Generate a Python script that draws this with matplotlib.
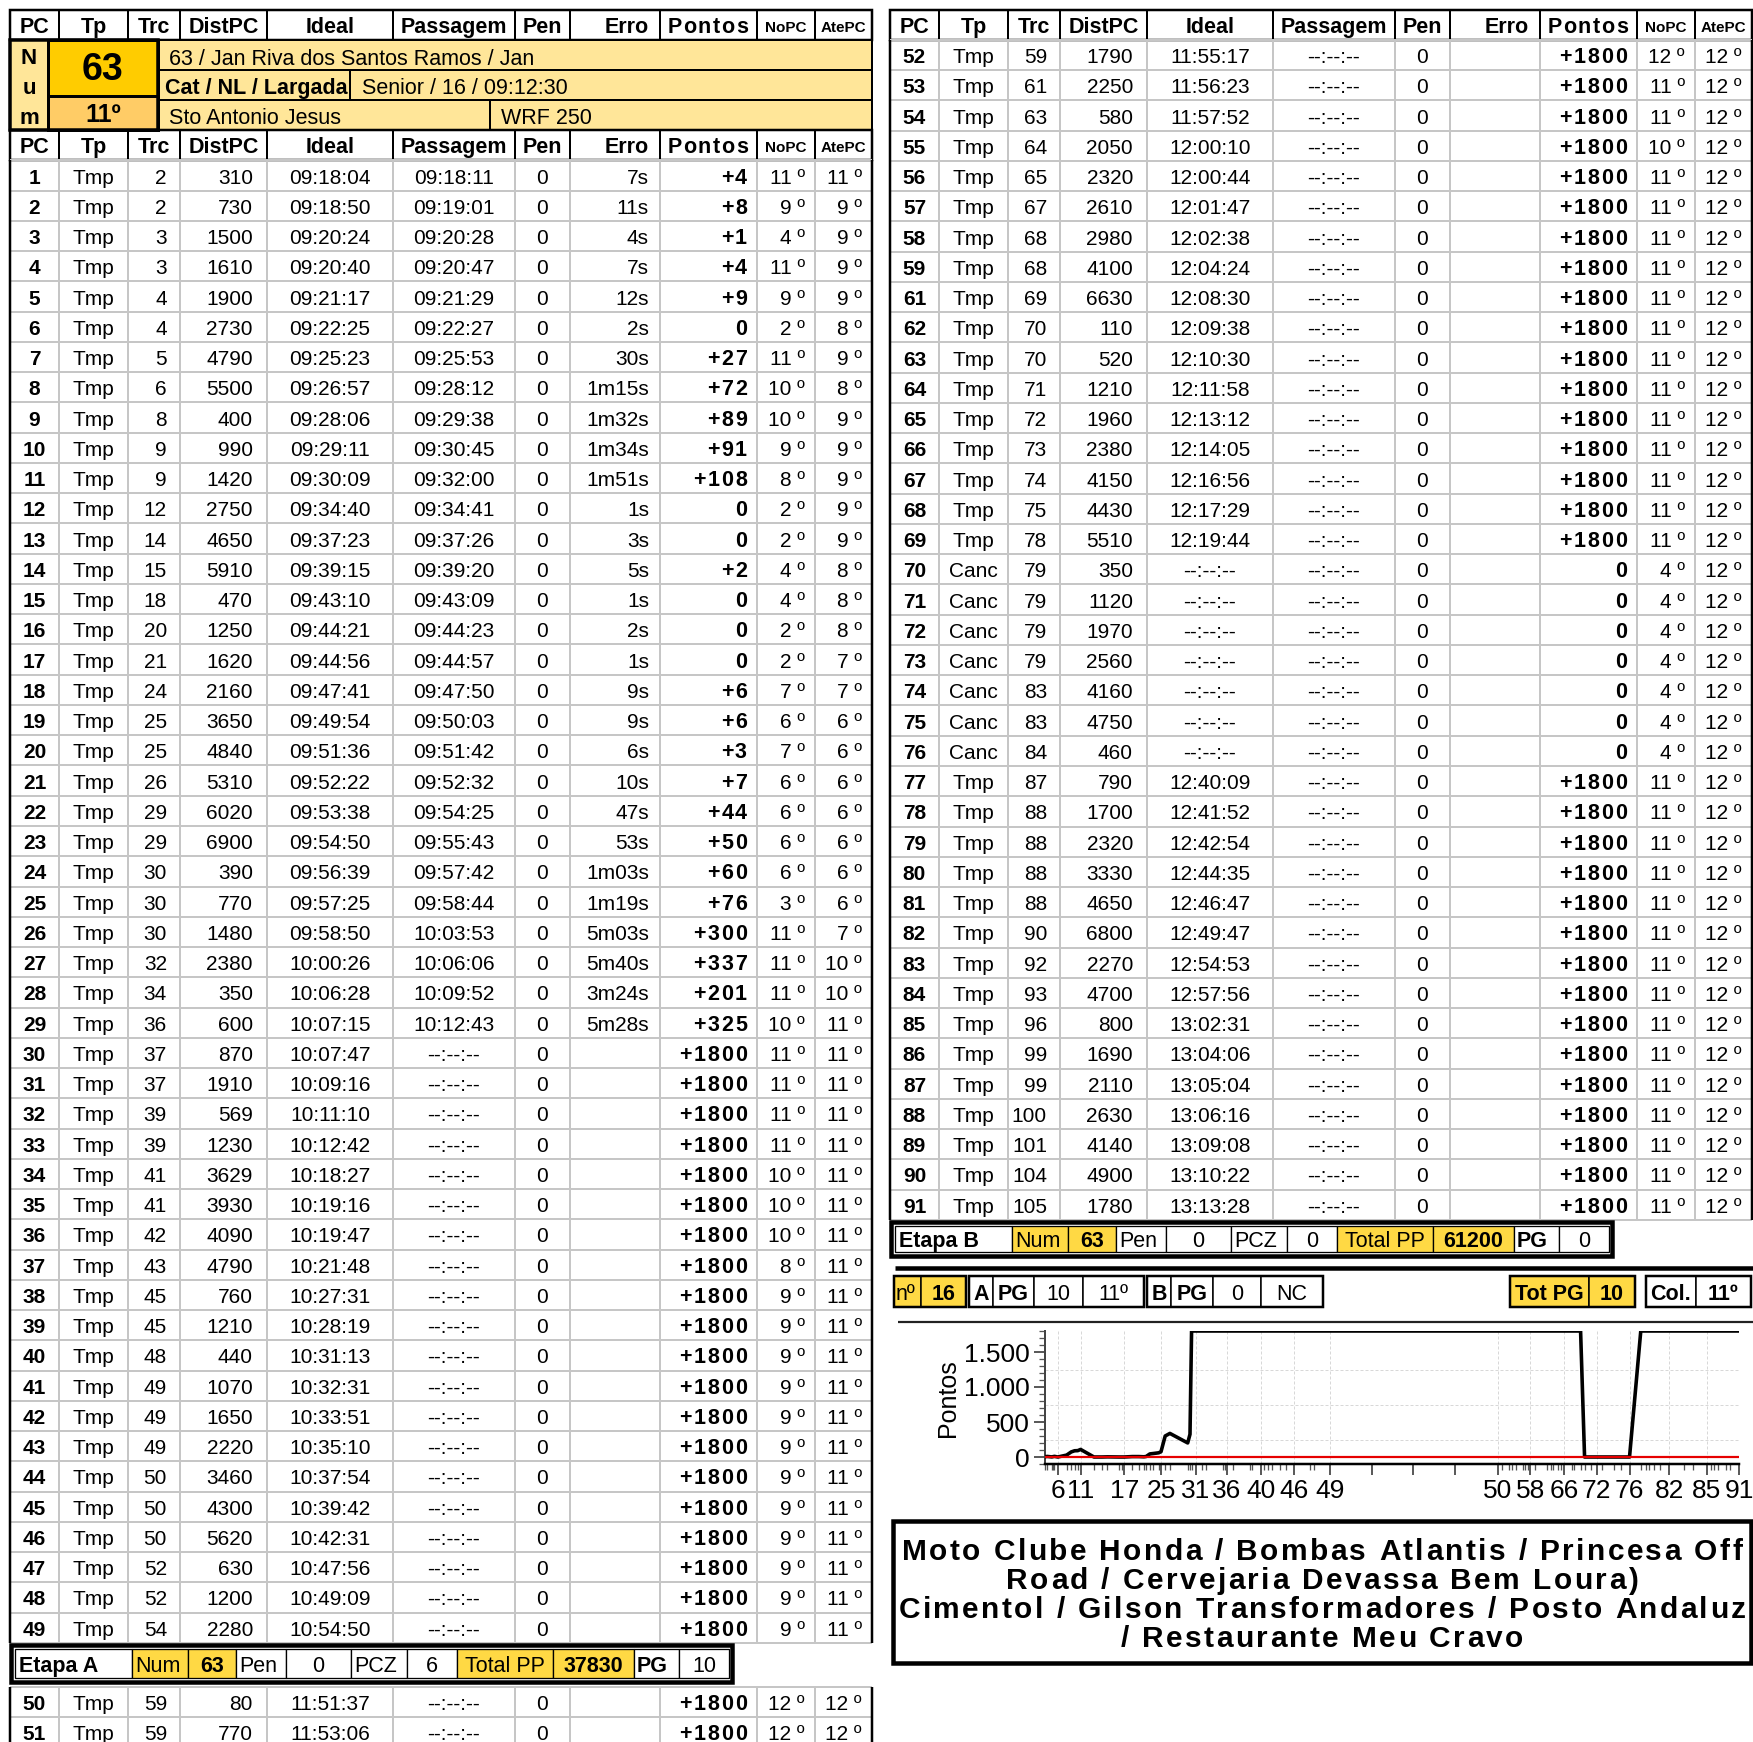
import numpy as np
import matplotlib.pyplot as plt
from matplotlib.patches import Rectangle
from matplotlib import font_manager
from matplotlib.font_manager import FontProperties, findfont, get_font

names = {f.name for f in font_manager.fontManager.ttflist}
FONT = 'Liberation Sans' if 'Liberation Sans' in names else 'DejaVu Sans'
NARROW = 'Liberation Sans Narrow' if 'Liberation Sans Narrow' in names else FONT
plt.rcParams['font.family'] = FONT

# ---------------- data ----------------
pc = list(range(1, 60)) + list(range(61, 92))
tp = ['Tmp'] * 68 + ['Canc'] * 7 + ['Tmp'] * 15
trc = [2, 2, 3, 3, 4, 4, 5, 6, 8, 9, 9, 12, 14, 15, 18, 20, 21, 24, 25, 25, 26, 29, 29, 30, 30,
       30, 32, 34, 36, 37, 37, 39, 39, 41, 41, 42, 43, 45, 45, 48, 49, 49, 49, 50, 50, 50, 52,
       52, 54, 59, 59, 59, 61, 63, 64, 65, 67, 68, 68, 69, 70, 70, 71, 72, 73, 74, 75, 78, 79,
       79, 79, 79, 83, 83, 84, 87, 88, 88, 88, 88, 90, 92, 93, 96, 99, 99, 100, 101, 104, 105]
dist = [310, 730, 1500, 1610, 1900, 2730, 4790, 5500, 400, 990, 1420, 2750, 4650, 5910, 470,
        1250, 1620, 2160, 3650, 4840, 5310, 6020, 6900, 390, 770, 1480, 2380, 350, 600, 870,
        1910, 569, 1230, 3629, 3930, 4090, 4790, 760, 1210, 440, 1070, 1650, 2220, 3460, 4300,
        5620, 630, 1200, 2280, 80, 770, 1790, 2250, 580, 2050, 2320, 2610, 2980, 4100, 6630,
        110, 520, 1210, 1960, 2380, 4150, 4430, 5510, 350, 1120, 1970, 2560, 4160, 4750, 460,
        790, 1700, 2320, 3330, 4650, 6800, 2270, 4700, 800, 1690, 2110, 2630, 4140, 4900, 1780]
ideal = ['09:18:04', '09:18:50', '09:20:24', '09:20:40', '09:21:17', '09:22:25', '09:25:23',
         '09:26:57', '09:28:06', '09:29:11', '09:30:09', '09:34:40', '09:37:23', '09:39:15',
         '09:43:10', '09:44:21', '09:44:56', '09:47:41', '09:49:54', '09:51:36', '09:52:22',
         '09:53:38', '09:54:50', '09:56:39', '09:57:25', '09:58:50', '10:00:26', '10:06:28',
         '10:07:15', '10:07:47', '10:09:16', '10:11:10', '10:12:42', '10:18:27', '10:19:16',
         '10:19:47', '10:21:48', '10:27:31', '10:28:19', '10:31:13', '10:32:31', '10:33:51',
         '10:35:10', '10:37:54', '10:39:42', '10:42:31', '10:47:56', '10:49:09', '10:54:50',
         '11:51:37', '11:53:06', '11:55:17', '11:56:23', '11:57:52', '12:00:10', '12:00:44',
         '12:01:47', '12:02:38', '12:04:24', '12:08:30', '12:09:38', '12:10:30', '12:11:58',
         '12:13:12', '12:14:05', '12:16:56', '12:17:29', '12:19:44'] + ['--:--:--'] * 7 + \
        ['12:40:09', '12:41:52', '12:42:54', '12:44:35', '12:46:47', '12:49:47', '12:54:53',
         '12:57:56', '13:02:31', '13:04:06', '13:05:04', '13:06:16', '13:09:08', '13:10:22',
         '13:13:28']
passagem = ['09:18:11', '09:19:01', '09:20:28', '09:20:47', '09:21:29', '09:22:27', '09:25:53',
            '09:28:12', '09:29:38', '09:30:45', '09:32:00', '09:34:41', '09:37:26', '09:39:20',
            '09:43:09', '09:44:23', '09:44:57', '09:47:50', '09:50:03', '09:51:42', '09:52:32',
            '09:54:25', '09:55:43', '09:57:42', '09:58:44', '10:03:53', '10:06:06', '10:09:52',
            '10:12:43'] + ['--:--:--'] * 61
pen = [0] * 90
erro = ['7s', '11s', '4s', '7s', '12s', '2s', '30s', '1m15s', '1m32s', '1m34s', '1m51s', '1s',
        '3s', '5s', '1s', '2s', '1s', '9s', '9s', '6s', '10s', '47s', '53s', '1m03s', '1m19s',
        '5m03s', '5m40s', '3m24s', '5m28s'] + [''] * 61
pontos = [4, 8, 1, 4, 9, 0, 27, 72, 89, 91, 108, 0, 0, 2, 0, 0, 0, 6, 6, 3, 7, 44, 50, 60, 76,
          300, 337, 201, 325] + [1800] * 39 + [0] * 7 + [1800] * 15
nopc = [11, 9, 4, 11, 9, 2, 11, 10, 10, 9, 8, 2, 2, 4, 4, 2, 2, 7, 6, 7, 6, 6, 6, 6, 3, 11, 11,
        11, 10, 11, 11, 11, 11, 10, 10, 10, 8] + [9] * 12 + [12, 12, 12, 11, 11, 10] + \
       [11] * 13 + [4] * 7 + [11] * 15
atepc = [11, 9, 9, 9, 9, 8, 9, 8, 9, 9, 9, 9, 9, 8, 8, 8, 7, 7, 6, 6, 6, 6, 6, 6, 6, 7, 10,
         10] + [11] * 21 + [12] * 41

# chart positions of the cancelled PCs 70-76
canc_time_est = ['12:21:05', '12:23:10', '12:25:10', '12:27:00', '12:31:00', '12:33:30',
                 '12:36:20']
gap_ticks = ['11:09:00', '11:23:00', '11:37:00']
label_pcs = [6, 11, 17, 25, 31, 36, 40, 46, 49, 50, 58, 66, 72, 76, 82, 85, 91]

pilot = '63 / Jan Riva dos Santos Ramos / Jan'
cat_info = 'Senior / 16 / 09:12:30'
city = 'Sto Antonio Jesus'
bike = 'WRF 250'
num = '63'
place = '11º'

etapa_names = ['Etapa A', 'Etapa B']
etapa_pen = [0, 0]
etapa_pcz = [6, 0]
etapa_total = [37830, 61200]
etapa_pg = [10, 0]

cat_no = 16
pg_a, pos_a = 10, '11º'
pg_b, pos_b = 0, 'NC'
tot_pg = 10
col_pos = '11º'

sponsors = ['Moto Clube Honda / Bombas Atlantis / Princesa Off',
            'Road / Cervejaria Devassa Bem Loura)',
            'Cimentol / Gilson Transformadores / Posto Andaluz',
            '/ Restaurante Meu Cravo']

# ---------------- canvas ----------------
W, H = 1753, 1742
fig = plt.figure(figsize=(W / 100, H / 100), dpi=100)
bg = fig.add_axes([0, 0, 1, 1])
bg.set_xlim(0, W)
bg.set_ylim(H, 0)
bg.axis('off')

PT = 0.72
GRAY = '#c6c6c6'
PALE = '#ffe699'
GOLD = '#ffcc00'
ORANGE = '#ffcc66'
YEL = '#ffd944'
DY = 2.5  # text baseline nudge


def box(x0, y0, x1, y1, fc='none', ec='black', lw=2, z=2):
    bg.add_patch(Rectangle((x0, y0), x1 - x0, y1 - y0, fc=fc, ec=ec, lw=lw * PT, zorder=z))


def seg(xs, ys, c='black', lw=2, z=3):
    bg.plot(xs, ys, color=c, lw=lw * PT, solid_capstyle='butt', zorder=z)


def adv(s, size, bold, family):
    f = get_font(findfont(FontProperties(family=family, weight='bold' if bold else 'normal')))
    f.set_size(size, 100)
    return [f.load_char(ord(c)).linearHoriAdvance / 65536 for c in s]


def put(x, y, s, size=15, bold=False, ha='center', track=0.0, family=None, **kw):
    family = family or FONT
    w = 'bold' if bold else 'normal'
    if not track:
        bg.text(x, y, s, fontsize=size, fontweight=w, family=family, ha=ha, va='center',
                zorder=6, **kw)
        return
    a = adv(s, size, bold, family)
    total = sum(a) + track * (len(s) - 1)
    x0 = x if ha == 'left' else (x - total if ha == 'right' else x - total / 2)
    for c, dx in zip(s, a):
        if c != ' ':
            bg.text(x0, y, c, fontsize=size, fontweight=w, family=family, ha='left',
                    va='center', zorder=6, **kw)
        x0 += dx + track


EDGES = [10, 59, 128, 180, 267, 393, 515, 570, 660, 757, 815, 872]
HEAD = ['PC', 'Tp', 'Trc', 'DistPC', 'Ideal', 'Passagem', 'Pen', 'Erro', 'Pontos', 'NoPC', 'AtePC']
ROW_H = 30.25


def header(dx, y0):
    y1 = y0 + 30
    box(EDGES[0] + dx, y0, EDGES[-1] + dx, y1, fc='white', lw=2.5)
    yc = (y0 + y1) / 2 + DY
    for i, name in enumerate(HEAD):
        a, b = EDGES[i] + dx, EDGES[i + 1] + dx
        box(a, y0, b, y1, lw=2)
        if name == 'Erro':
            put(b - 11, yc, name, 15.5, True, 'right')
        elif name == 'Pontos':
            put(b - 9, yc, name, 15.5, True, 'right', track=1.6)
        elif name in ('NoPC', 'AtePC'):
            put((a + b) / 2, yc, name, 11, True)
        else:
            put((a + b) / 2, yc, name, 15.5, True)


def rows(dx, y0, idx):
    c = [e + dx for e in EDGES]
    n = len(idx)
    y_end = y0 + n * ROW_H
    for k in range(n + 1):
        seg([c[0], c[-1]], [y0 + k * ROW_H] * 2, GRAY, 2, 2)
    for e in c[1:-1]:
        seg([e, e], [y0, y_end], GRAY, 2, 2)
    seg([c[0], c[0]], [y0, y_end], 'black', 2.5, 4)
    seg([c[-1], c[-1]], [y0, y_end], 'black', 2.5, 4)
    for k, i in enumerate(idx):
        yc = y0 + k * ROW_H + ROW_H / 2 + DY
        put((c[0] + c[1]) / 2, yc, str(pc[i]), 15, True)
        put((c[1] + c[2]) / 2, yc, tp[i], 15)
        put(c[3] - 13, yc, str(trc[i]), 15, ha='right')
        put(c[4] - 14, yc, str(dist[i]), 15, ha='right')
        put((c[4] + c[5]) / 2, yc, ideal[i], 15)
        put((c[5] + c[6]) / 2, yc, passagem[i], 15)
        put((c[6] + c[7]) / 2, yc, str(pen[i]), 15)
        put(c[8] - 11, yc, erro[i], 15, ha='right')
        p = '+%d' % pontos[i] if pontos[i] else '0'
        put(c[9] - 10, yc, p, 15.5, True, 'right', track=1.8)
        put(c[10] - 10, yc, '%d º' % nopc[i], 15, ha='right')
        put(c[11] - 10, yc, '%d º' % atepc[i], 15, ha='right')


def etapa(dx, y0, y1, j):
    e = [x + dx for x in [15, 132, 188, 236, 286, 351, 407, 457, 553, 634, 679, 729]]
    box(11 + dx, y0, 732 + dx, y1, fc='white', lw=4.5, z=3)
    cells = [(etapa_names[j], True, 'white'), ('Num', False, YEL), (num, True, YEL),
             ('Pen', False, 'white'), (str(etapa_pen[j]), False, 'white'),
             ('PCZ', False, 'white'), (str(etapa_pcz[j]), False, 'white'),
             ('Total PP', False, YEL), (str(etapa_total[j]), True, YEL),
             ('PG', True, 'white'), (str(etapa_pg[j]), False, 'white')]
    yc = (y0 + y1) / 2 + DY
    for k, (s, b, fc) in enumerate(cells):
        box(e[k], y0 + 4, e[k + 1], y1 - 4, fc=fc, lw=1.3, z=4)
        if k == 0:
            put(e[k] + 4, yc, s, 15.5, b, 'left')
        elif s in ('Num', 'Pen', 'PCZ', 'PG'):
            put(e[k] + 3, yc, s, 15.5, b, 'left')
        else:
            put((e[k] + e[k + 1]) / 2, yc, s, 15.5, b)


# ---------------- left table ----------------
header(0, 10)
box(158, 40, 872, 70, fc=PALE, lw=2)
box(158, 70, 872, 100, fc=PALE, lw=2)
box(158, 100, 872, 130, fc=PALE, lw=2)
seg([350, 350], [70, 100], 'black', 2)
seg([490, 490], [100, 130], 'black', 2)
box(10, 40, 48, 130, fc=PALE, lw=2, z=3)
box(48, 40, 158, 96, fc=GOLD, lw=3, z=3)
box(48, 96, 158, 130, fc=ORANGE, lw=3, z=3)
box(10, 40, 158, 130, lw=3.5, z=5)
put(29, 58, 'N', 16, True)
put(29, 89, 'u', 16, True)
put(29, 119, 'm', 16, True)
put(103, 70, num, 27, True)
put(103, 115, place, 18, True)
put(169, 57 + DY, pilot, 15.5, ha='left')
put(165, 86 + DY, 'Cat / NL / Largada', 15.5, True, 'left')
put(362, 86 + DY, cat_info, 15.5, ha='left')
put(169, 116 + DY, city, 15.5, ha='left')
put(501, 116 + DY, bike, 15.5, ha='left')
header(0, 130)
rows(0, 160.5, range(0, 49))
etapa(0, 1645, 1682, 0)
rows(0, 1687, [49, 50])

# ---------------- right table ----------------
header(880, 10)
rows(880, 40, range(51, 90))
etapa(880, 1222, 1256, 1)

seg([895, 1753], [1268, 1268], 'black', 4.5)
seg([898, 1753], [1322, 1322], '#222222', 2.2)

# score row
groups = [[(894, 921, 'nº', False, YEL), (921, 966, str(cat_no), True, YEL)],
          [(969, 993, 'A', True, 'white'), (993, 1034, 'PG', True, 'white'),
           (1034, 1083, str(pg_a), False, 'white'), (1083, 1144, pos_a, False, 'white')],
          [(1147, 1171, 'B', True, 'white'), (1171, 1213, 'PG', True, 'white'),
           (1213, 1261, str(pg_b), False, 'white'), (1261, 1323, pos_b, False, 'white')],
          [(1510, 1589, 'Tot PG', True, YEL), (1589, 1635, str(tot_pg), True, YEL)],
          [(1646, 1696, 'Col.', True, 'white'), (1696, 1751, col_pos, True, 'white')]]
for g in groups:
    for a, b, s, bold, fc in g:
        box(a, 1276, b, 1307, fc=fc, lw=1.5, z=3)
        if s == 'nº':
            put(a + 2, 1292 + DY, s, 15.5, bold, 'left')
        else:
            put((a + b) / 2, 1292 + DY, s, 15.5, bold)
    box(g[0][0], 1276, g[-1][1], 1307, lw=2.5, z=4)

# ---------------- chart ----------------
def tmin(s):
    h, m, sec = map(int, s.split(':'))
    return h * 60 + m + sec / 60


t_chart = []
k = 0
for s in ideal:
    if s.startswith('--'):
        t_chart.append(tmin(canc_time_est[k]))
        k += 1
    else:
        t_chart.append(tmin(s))

ax = fig.add_axes([1045 / W, 1 - 1464 / H, (1739 - 1045) / W, (1464 - 1331) / H])
ax.plot(t_chart, pontos, color='black', lw=3.6 * PT, zorder=3)
ax.axhline(0, color='#e60000', lw=2.2 * PT, zorder=4)
ax.set_xlim(t_chart[0], t_chart[-1])
ax.set_ylim(-100, 1800)
for sp in ('top', 'right'):
    ax.spines[sp].set_visible(False)
ax.spines['left'].set_linewidth(2 * PT)
ax.spines['left'].set_color('#444444')
ax.spines['bottom'].set_linewidth(2.5 * PT)

major_t = [t_chart[pc.index(p)] for p in label_pcs]
ax.set_xticks(major_t + [tmin(s) for s in gap_ticks])
ax.set_xticklabels([str(p) for p in label_pcs] + [''] * len(gap_ticks))
ax.set_xticks(t_chart, minor=True)
ax.set_yticks([0, 500, 1000, 1500])
ax.set_yticklabels([f'{v:,}'.replace(',', '.') for v in [0, 500, 1000, 1500]])
ax.set_yticks(np.arange(-100, 1801, 100), minor=True)
ax.tick_params(which='major', length=8, width=1.6 * PT, labelsize=19, pad=3, color='#333333')
ax.tick_params(which='minor', length=4, width=1.3 * PT, color='#555555')
for lbl in ax.get_xticklabels() + ax.get_yticklabels():
    lbl.set_family(NARROW)
for t in major_t:
    ax.axvline(t, color='#d8d8d8', lw=1 * PT, ls=(0, (3, 2)), zorder=0)
for v in (250, 750, 1250):
    ax.axhline(v, color='#d8d8d8', lw=1 * PT, ls=(0, (3, 2)), zorder=0)
put(948, 1398, 'Pontos', 18, rotation=90)

# ---------------- sponsors ----------------
box(893, 1521, 1751, 1663, fc='white', lw=4.5)
fs = 21.5
a1 = adv(sponsors[0], fs, True, NARROW)
trk = (840 - sum(a1)) / (len(sponsors[0]) - 1)
for j, line in enumerate(sponsors):
    put(1322, 1551 + j * 29 + 1, line, fs, True, track=trk, family=NARROW)

fig.savefig('out.png', dpi=100)
